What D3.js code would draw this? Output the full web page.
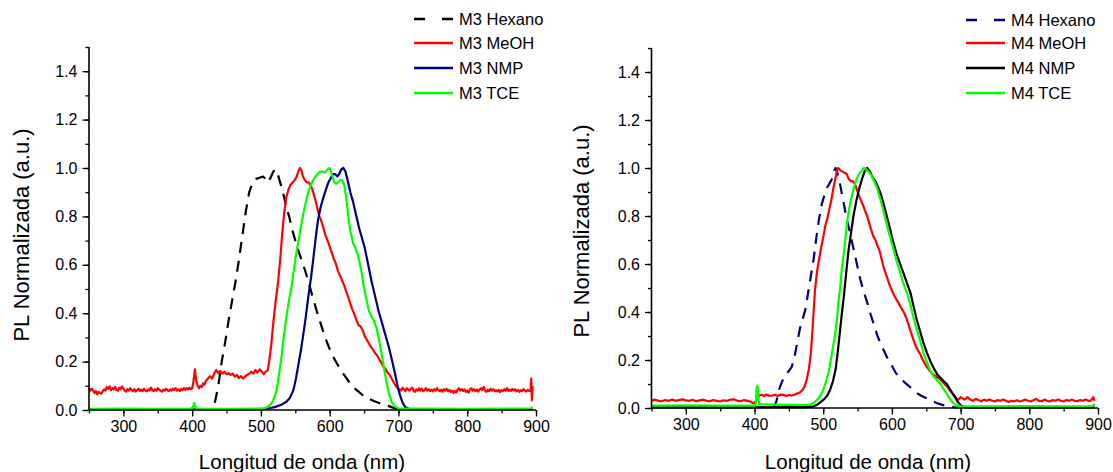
<!DOCTYPE html>
<html><head><meta charset="utf-8">
<script src="https://cdn.jsdelivr.net/npm/d3@7"></script>
<style>
body{margin:0;background:#fff;}
text{font-family:"Liberation Sans",Arial,sans-serif;fill:#000;}
</style></head>
<body><svg id="chart" width="1113" height="472"></svg>
<script>
// ---------- DATA ----------
const xTickValues = [300,400,500,600,700,800,900];
const yTickValues = [0,0.2,0.4,0.6,0.8,1.0,1.2,1.4];
const xTitle = "Longitud de onda (nm)";
const yTitle = "PL Normalizada (a.u.)";
const legendLeft = ["M3 Hexano","M3 MeOH","M3 NMP","M3 TCE"];
const legendRight = ["M4 Hexano","M4 MeOH","M4 NMP","M4 TCE"];

const m3Hexano = [[433,0.03],[438,0.10],[443,0.2],[448,0.28],[453,0.37],[458,0.45],[463,0.53],[468,0.62],[473,0.72],[478,0.82],[483,0.9],[488,0.94],[493,0.955],[498,0.96],[503,0.965],[507,0.955],[510,0.94],[514,0.96],[518,0.985],[521,0.995],[524,0.98],[528,0.94],[532,0.9],[536,0.85],[541,0.8],[546,0.74],[551,0.69],[556,0.645],[561,0.605],[566,0.56],[571,0.51],[576,0.46],[581,0.41],[586,0.365],[591,0.32],[596,0.28],[601,0.245],[606,0.215],[611,0.19],[616,0.165],[621,0.145],[626,0.125],[631,0.105],[636,0.09],[641,0.078],[646,0.066],[651,0.056],[656,0.048],[661,0.041],[666,0.035],[671,0.03],[676,0.026],[681,0.022],[686,0.016],[691,0.011],[696,0.006],[700,0.003]];

const m3MeOH = [[250,0.09],[252,0.08],[254,0.088],[256,0.08],[258,0.07],[260,0.078],[262,0.065],[264,0.075],[266,0.07],[268,0.068],[270,0.078],[272,0.085],[274,0.08],[276,0.095],[278,0.088],[280,0.098],[282,0.082],[284,0.09],[286,0.085],[288,0.095],[290,0.083],[292,0.08],[294,0.092],[296,0.085],[298,0.098],[300,0.088],[302,0.08],[304,0.076],[306,0.086],[308,0.08],[310,0.09],[312,0.082],[314,0.078],[316,0.086],[318,0.076],[320,0.082],[322,0.088],[324,0.079],[326,0.084],[328,0.078],[330,0.087],[332,0.08],[334,0.077],[336,0.085],[338,0.08],[340,0.092],[342,0.082],[344,0.078],[346,0.086],[348,0.08],[350,0.09],[352,0.084],[354,0.08],[356,0.076],[358,0.084],[360,0.08],[362,0.088],[364,0.082],[366,0.078],[368,0.085],[370,0.08],[372,0.088],[374,0.083],[376,0.09],[378,0.08],[380,0.085],[382,0.078],[384,0.088],[386,0.082],[388,0.09],[390,0.083],[392,0.09],[394,0.085],[396,0.092],[398,0.086],[400,0.09],[402,0.12],[404,0.168],[406,0.12],[408,0.1],[410,0.09],[412,0.1],[414,0.095],[416,0.11],[418,0.105],[420,0.12],[423,0.13],[426,0.14],[429,0.13],[432,0.15],[435,0.165],[438,0.152],[441,0.162],[444,0.15],[447,0.158],[450,0.148],[453,0.152],[456,0.145],[459,0.15],[462,0.138],[465,0.145],[468,0.132],[471,0.14],[474,0.13],[477,0.138],[480,0.145],[483,0.15],[486,0.158],[489,0.15],[492,0.165],[495,0.155],[498,0.168],[501,0.16],[504,0.148],[507,0.158],[510,0.165],[512,0.2],[515,0.27],[518,0.36],[521,0.44],[525,0.53],[528,0.62],[531,0.73],[534,0.82],[537,0.88],[540,0.91],[543,0.93],[546,0.94],[549,0.95],[552,0.965],[555,0.99],[557,1.0],[559,0.99],[561,0.965],[564,0.95],[567,0.94],[570,0.94],[573,0.925],[576,0.9],[579,0.87],[582,0.835],[585,0.8],[588,0.78],[591,0.75],[594,0.72],[597,0.7],[600,0.675],[603,0.65],[606,0.625],[609,0.605],[612,0.575],[615,0.555],[618,0.535],[621,0.515],[624,0.49],[627,0.465],[630,0.44],[633,0.415],[636,0.395],[639,0.37],[642,0.35],[645,0.345],[648,0.33],[651,0.305],[654,0.29],[657,0.275],[660,0.26],[663,0.25],[666,0.235],[669,0.225],[672,0.21],[675,0.195],[678,0.18],[681,0.17],[684,0.155],[687,0.145],[690,0.13],[693,0.115],[696,0.1],[699,0.09],[702,0.085],[704,0.08],[706,0.092],[708,0.085],[710,0.078],[712,0.09],[714,0.085],[716,0.08],[718,0.088],[720,0.092],[722,0.08],[724,0.075],[726,0.085],[728,0.08],[730,0.09],[732,0.08],[734,0.088],[736,0.078],[738,0.082],[740,0.09],[742,0.08],[744,0.086],[746,0.078],[748,0.084],[750,0.077],[752,0.086],[754,0.08],[756,0.09],[758,0.082],[760,0.078],[762,0.084],[764,0.076],[766,0.086],[768,0.08],[770,0.088],[772,0.078],[774,0.083],[776,0.075],[778,0.08],[780,0.07],[782,0.078],[784,0.072],[786,0.084],[788,0.09],[790,0.08],[792,0.086],[794,0.078],[796,0.085],[798,0.075],[800,0.08],[802,0.072],[804,0.085],[806,0.09],[808,0.08],[810,0.086],[812,0.078],[814,0.084],[816,0.076],[818,0.085],[820,0.09],[822,0.082],[824,0.095],[826,0.08],[828,0.075],[830,0.083],[832,0.078],[834,0.088],[836,0.08],[838,0.086],[840,0.078],[842,0.082],[844,0.076],[846,0.084],[848,0.074],[850,0.082],[852,0.078],[854,0.086],[856,0.08],[858,0.09],[860,0.078],[862,0.084],[864,0.079],[866,0.087],[868,0.08],[870,0.085],[872,0.077],[874,0.083],[876,0.075],[878,0.082],[880,0.078],[882,0.086],[884,0.08],[886,0.076],[888,0.083],[890,0.079],[892,0.08],[893,0.13],[894,0.04],[895,0.1]];

const m3NMP = [[250,0.003],[300,0.003],[350,0.002],[400,0.003],[450,0.003],[500,0.003],[510,0.006],[520,0.012],[530,0.022],[537,0.034],[542,0.05],[547,0.08],[551,0.13],[554,0.18],[558,0.245],[561,0.30],[565,0.38],[569,0.47],[573,0.55],[576,0.62],[580,0.72],[583,0.785],[587,0.84],[591,0.88],[595,0.915],[598,0.94],[602,0.96],[605,0.975],[608,0.975],[611,0.965],[614,0.975],[617,0.995],[620,1.0],[623,0.985],[626,0.95],[630,0.9],[634,0.86],[638,0.81],[643,0.75],[647,0.71],[651,0.67],[656,0.6],[661,0.53],[666,0.47],[671,0.41],[676,0.36],[681,0.31],[686,0.26],[691,0.2],[695,0.15],[698,0.11],[700,0.083],[703,0.055],[706,0.03],[710,0.012],[715,0.005],[720,0.003],[800,0.003],[895,0.003]];

const m3TCE = [[250,0.005],[300,0.006],[350,0.005],[398,0.006],[401,0.01],[403,0.03],[405,0.012],[407,0.005],[450,0.005],[500,0.006],[506,0.008],[511,0.015],[516,0.03],[520,0.055],[523,0.085],[526,0.14],[530,0.22],[533,0.3],[537,0.385],[541,0.455],[545,0.52],[548,0.58],[552,0.66],[556,0.72],[559,0.77],[563,0.83],[567,0.88],[571,0.92],[576,0.95],[581,0.97],[586,0.985],[590,0.985],[593,0.98],[597,0.995],[600,1.0],[603,0.975],[606,0.945],[609,0.935],[612,0.94],[615,0.95],[618,0.95],[621,0.93],[624,0.88],[627,0.8],[630,0.74],[634,0.69],[638,0.665],[642,0.63],[646,0.575],[649,0.52],[653,0.46],[657,0.41],[661,0.385],[664,0.37],[668,0.34],[671,0.3],[675,0.24],[678,0.19],[681,0.14],[684,0.096],[687,0.06],[690,0.035],[695,0.014],[700,0.007],[750,0.006],[800,0.005],[850,0.006],[893,0.006],[895,0.012]];

const m4Hexano = [[428,0.0],[432,0.03],[436,0.08],[440,0.11],[445,0.135],[450,0.155],[454,0.17],[458,0.21],[462,0.27],[466,0.33],[470,0.37],[474,0.41],[478,0.48],[482,0.55],[486,0.62],[490,0.71],[494,0.79],[498,0.85],[502,0.89],[506,0.92],[510,0.94],[513,0.955],[516,0.99],[518,1.0],[520,0.985],[523,0.955],[526,0.91],[530,0.85],[534,0.79],[539,0.73],[544,0.665],[549,0.6],[554,0.535],[559,0.485],[564,0.44],[569,0.39],[574,0.345],[579,0.3],[584,0.265],[589,0.235],[594,0.205],[600,0.175],[606,0.145],[612,0.125],[618,0.108],[624,0.093],[630,0.078],[636,0.063],[642,0.052],[648,0.044],[654,0.035],[660,0.027],[666,0.02],[672,0.014],[678,0.01],[684,0.007],[690,0.004],[696,0.002]];

const m4MeOH = [[250,0.03],[255,0.035],[260,0.03],[265,0.028],[270,0.033],[275,0.03],[280,0.035],[285,0.03],[290,0.033],[295,0.036],[300,0.032],[305,0.03],[310,0.034],[315,0.028],[320,0.032],[325,0.035],[330,0.03],[335,0.028],[340,0.033],[345,0.03],[350,0.027],[355,0.032],[360,0.03],[365,0.035],[370,0.036],[375,0.03],[380,0.028],[385,0.033],[390,0.03],[395,0.025],[398,0.02],[401,0.025],[404,0.04],[407,0.052],[410,0.055],[414,0.05],[418,0.056],[422,0.05],[426,0.052],[430,0.055],[434,0.05],[438,0.056],[442,0.055],[446,0.05],[450,0.054],[454,0.052],[458,0.055],[462,0.06],[466,0.065],[470,0.075],[473,0.09],[476,0.12],[479,0.16],[482,0.23],[484,0.31],[486,0.4],[488,0.49],[491,0.57],[494,0.62],[497,0.67],[500,0.71],[503,0.76],[506,0.79],[509,0.83],[512,0.87],[515,0.92],[518,0.96],[520,0.99],[522,1.0],[525,0.99],[528,0.985],[531,0.98],[534,0.975],[537,0.955],[540,0.945],[543,0.945],[546,0.935],[549,0.91],[552,0.885],[555,0.865],[558,0.845],[561,0.82],[564,0.8],[567,0.77],[570,0.74],[573,0.715],[576,0.7],[579,0.675],[582,0.655],[585,0.62],[588,0.585],[591,0.56],[594,0.535],[597,0.51],[600,0.49],[603,0.47],[606,0.455],[609,0.44],[612,0.425],[615,0.41],[618,0.395],[621,0.375],[624,0.35],[627,0.32],[630,0.295],[633,0.27],[636,0.25],[639,0.235],[642,0.22],[645,0.2],[648,0.185],[651,0.17],[655,0.155],[660,0.14],[665,0.13],[670,0.12],[675,0.105],[680,0.09],[684,0.075],[688,0.06],[691,0.05],[694,0.04],[697,0.035],[700,0.045],[703,0.04],[706,0.035],[710,0.045],[714,0.035],[718,0.03],[722,0.038],[726,0.033],[730,0.028],[734,0.035],[738,0.03],[742,0.036],[746,0.03],[750,0.027],[754,0.033],[758,0.03],[762,0.036],[766,0.03],[770,0.025],[774,0.03],[778,0.028],[782,0.032],[786,0.027],[790,0.03],[794,0.035],[798,0.03],[802,0.027],[806,0.032],[810,0.038],[814,0.03],[818,0.028],[822,0.035],[826,0.03],[830,0.027],[834,0.033],[838,0.03],[842,0.036],[846,0.03],[850,0.027],[854,0.033],[858,0.03],[862,0.035],[866,0.03],[870,0.028],[874,0.033],[878,0.03],[882,0.036],[886,0.03],[890,0.032],[893,0.045],[895,0.03]];

const m4NMP = [[250,0.003],[300,0.003],[350,0.003],[400,0.003],[450,0.004],[480,0.004],[486,0.007],[491,0.014],[496,0.024],[501,0.036],[506,0.052],[510,0.076],[514,0.11],[518,0.16],[521,0.23],[524,0.31],[527,0.39],[530,0.465],[534,0.58],[537,0.66],[541,0.74],[544,0.8],[548,0.86],[552,0.91],[556,0.95],[560,0.985],[564,1.0],[568,0.985],[572,0.96],[576,0.945],[580,0.92],[584,0.89],[588,0.85],[592,0.805],[597,0.75],[602,0.69],[607,0.64],[612,0.6],[617,0.56],[622,0.52],[627,0.48],[631,0.43],[636,0.37],[641,0.32],[646,0.27],[651,0.23],[656,0.195],[661,0.165],[666,0.14],[671,0.125],[676,0.11],[680,0.1],[684,0.08],[688,0.062],[692,0.045],[696,0.025],[700,0.012],[705,0.005],[710,0.003],[800,0.003],[895,0.003]];

const m4TCE = [[250,0.01],[300,0.011],[350,0.01],[400,0.01],[402,0.02],[403,0.08],[404,0.092],[405,0.085],[406,0.03],[407,0.015],[430,0.014],[450,0.013],[470,0.012],[478,0.013],[483,0.016],[488,0.025],[492,0.037],[496,0.052],[500,0.075],[504,0.11],[508,0.15],[511,0.2],[514,0.25],[517,0.3],[520,0.37],[522,0.44],[525,0.51],[527,0.58],[530,0.645],[532,0.7],[535,0.78],[539,0.85],[543,0.9],[547,0.94],[551,0.97],[555,0.985],[559,1.0],[562,0.995],[566,0.985],[570,0.97],[574,0.945],[578,0.92],[582,0.88],[587,0.83],[592,0.77],[597,0.715],[602,0.665],[607,0.61],[612,0.565],[617,0.515],[622,0.48],[627,0.43],[631,0.38],[636,0.33],[641,0.28],[646,0.23],[651,0.19],[656,0.155],[661,0.13],[666,0.115],[671,0.1],[675,0.08],[679,0.0625],[684,0.04],[689,0.02],[694,0.012],[699,0.008],[750,0.007],[800,0.008],[850,0.007],[890,0.008],[893,0.01],[895,0.018]];

// ---------- LAYOUT ----------
const svg = d3.select("#chart");
const panels = [
  {x0:89, x1:536, yBase:410, pxPerUnit:242, series:[m3Hexano,m3MeOH,m3NMP,m3TCE],
   colors:["#000000","#ff0000","#000080","#00ff00"], labels:legendLeft,
   legX:414, legRows:[19,43,68,93], yTitleX:21, xTitleC:302, yTitleC:235},
  {x0:651.5, x1:1098, yBase:408, pxPerUnit:240, series:[m4Hexano,m4MeOH,m4NMP,m4TCE],
   colors:["#000080","#ff0000","#000000","#00ff00"], labels:legendRight,
   legX:966, legRows:[20,43,68,93], yTitleX:581, xTitleC:868, yTitleC:231}
];
panels.forEach((p)=>{
  const x = d3.scaleLinear().domain([250,900]).range([p.x0,p.x1]);
  const y = d3.scaleLinear().domain([0,1.5]).range([p.yBase, p.yBase-1.5*p.pxPerUnit]);
  const g = svg.append("g");

  // curves
  const line = d3.line().x(d=>x(d[0])).y(d=>y(d[1]));
  [0,1,2,3].forEach(i=>{
    g.append("path").datum(p.series[i]).attr("d",line)
      .attr("fill","none").attr("stroke",p.colors[i])
      .attr("stroke-width",2.2).attr("stroke-linejoin","round")
      .attr("stroke-dasharray", i===0 ? "11,8" : null);
  });

  // x axis
  const xa = g.append("g").attr("transform",`translate(0,${p.yBase})`);
  xa.call(d3.axisBottom(x).tickValues(d3.range(250,901,50)).tickSize(3.5).tickFormat(""));
  xa.selectAll(".tick line").attr("stroke-width",1.3);
  xa.select(".domain").remove();
  const xb = g.append("g").attr("transform",`translate(0,${p.yBase})`);
  xb.call(d3.axisBottom(x).tickValues(xTickValues).tickSize(6.5).tickPadding(4).tickFormat(d3.format("d")));
  xb.selectAll(".tick line").attr("stroke-width",1.3);
  xb.selectAll(".tick text").style("font-size","16px").attr("fill","#000");
  xb.select(".domain").attr("stroke-width",1.6).attr("d",`M${p.x0},0H${p.x1}`);

  // y axis
  const ya = g.append("g").attr("transform",`translate(${p.x0},0)`);
  ya.call(d3.axisLeft(y).tickValues(d3.range(0,15.5,1).map(v=>v/10)).tickSize(3.5).tickFormat(""));
  ya.selectAll(".tick line").attr("stroke-width",1.3);
  ya.select(".domain").remove();
  const yb = g.append("g").attr("transform",`translate(${p.x0},0)`);
  yb.call(d3.axisLeft(y).tickValues(yTickValues).tickSize(6.5).tickPadding(5).tickFormat(d3.format(".1f")));
  yb.selectAll(".tick line").attr("stroke-width",1.3);
  yb.selectAll(".tick text").style("font-size","16px").attr("fill","#000");
  yb.select(".domain").attr("stroke-width",1.6).attr("d",`M0,${y(1.5)}V${p.yBase}`);

  // titles
  g.append("text").attr("x",p.xTitleC).attr("y",469)
    .attr("text-anchor","middle").style("font-size","20.5px").text(xTitle);
  g.append("text").attr("transform",`translate(${p.yTitleX},${p.yTitleC}) rotate(-90)`)
    .attr("text-anchor","middle").attr("dy","0.35em").style("font-size","22px").text(yTitle);

  // legend
  p.labels.forEach((lab,i)=>{
    const ry = p.legRows[i];
    g.append("line").attr("x1",p.legX).attr("x2",p.legX+39).attr("y1",ry).attr("y2",ry)
      .attr("stroke",p.colors[i]).attr("stroke-width",2.5)
      .attr("stroke-dasharray", i===0 ? "11,17" : null);
    g.append("text").attr("x",p.legX+45).attr("y",ry).attr("dy","0.35em")
      .style("font-size","16.5px").text(lab);
  });
});
</script></body></html>
